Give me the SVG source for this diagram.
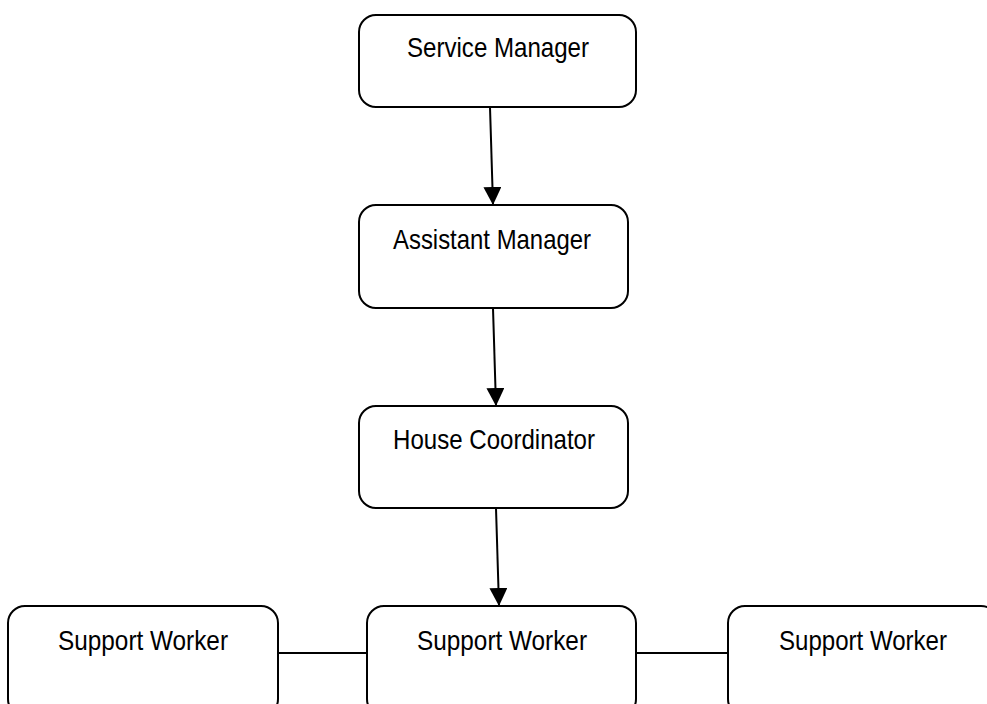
<svg xmlns="http://www.w3.org/2000/svg" width="987" height="704" viewBox="0 0 987 704">
<style>
.box{fill:#fff;stroke:#000;stroke-width:2}
.lbl{font-family:"Liberation Sans",Arial,sans-serif;font-size:28px;fill:#000;text-anchor:middle}
.con{stroke:#000;stroke-width:2;fill:none}
</style>
<defs>
<marker id="ah" markerUnits="userSpaceOnUse" markerWidth="18" markerHeight="18" viewBox="0 0 16 16" refX="16" refY="8" orient="auto">
<path d="M0,0 L16,8 L0,16 Z" fill="#000"/>
</marker>
</defs>
<rect width="987" height="704" fill="#fff"/>
<g id="connectors">
<line class="con" x1="490" y1="107" x2="493" y2="205" marker-end="url(#ah)"/>
<line class="con" x1="493" y1="308" x2="496" y2="406" marker-end="url(#ah)"/>
<line class="con" x1="496" y1="508" x2="499" y2="606" marker-end="url(#ah)"/>
<line class="con" x1="278" y1="653" x2="367" y2="653"/>
<line class="con" x1="636" y1="653" x2="728" y2="653"/>
</g>
<g id="service-manager">
<rect class="box" x="359" y="15" width="277" height="92" rx="17"/>
<text class="lbl" x="498" y="57" textLength="182" lengthAdjust="spacingAndGlyphs">Service Manager</text>
</g>
<g id="assistant-manager">
<rect class="box" x="359" y="205" width="269" height="103" rx="17"/>
<text class="lbl" x="492" y="249" textLength="198" lengthAdjust="spacingAndGlyphs">Assistant Manager</text>
</g>
<g id="house-coordinator">
<rect class="box" x="359" y="406" width="269" height="102" rx="17"/>
<text class="lbl" x="494" y="449" textLength="202" lengthAdjust="spacingAndGlyphs">House Coordinator</text>
</g>
<g id="support-worker-left">
<rect class="box" x="8" y="606" width="270" height="110" rx="17"/>
<text class="lbl" x="143" y="650" textLength="170" lengthAdjust="spacingAndGlyphs">Support Worker</text>
</g>
<g id="support-worker-middle">
<rect class="box" x="367" y="606" width="269" height="110" rx="17"/>
<text class="lbl" x="502" y="650" textLength="170" lengthAdjust="spacingAndGlyphs">Support Worker</text>
</g>
<g id="support-worker-right">
<rect class="box" x="728" y="606" width="270" height="110" rx="17"/>
<text class="lbl" x="863" y="650" textLength="168" lengthAdjust="spacingAndGlyphs">Support Worker</text>
</g>
</svg>
